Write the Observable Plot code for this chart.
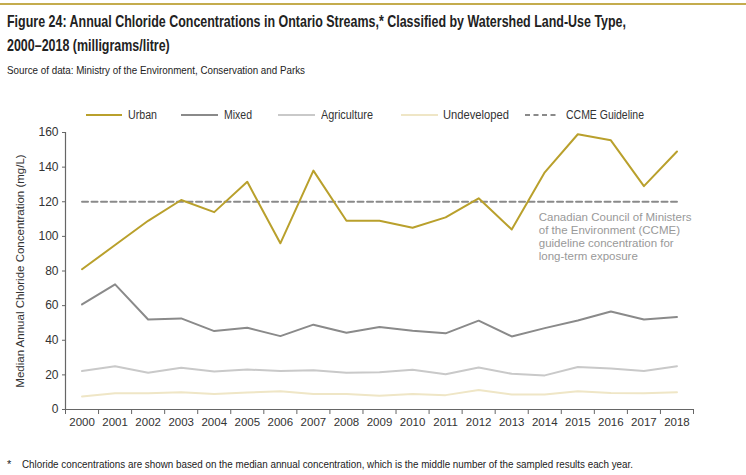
<!DOCTYPE html>
<html><head><meta charset="utf-8">
<script src="https://cdn.jsdelivr.net/npm/d3@7"></script>
<script src="https://cdn.jsdelivr.net/npm/@observablehq/plot@0.6"></script>
<style>
html,body{margin:0;padding:0;background:#fff;}
#wrap{position:relative;width:746px;height:475px;overflow:hidden;font-family:"Liberation Sans",Arial,sans-serif;color:#222;}
#topline{position:absolute;left:0;top:3px;width:746px;height:2px;background:#c4ac4e;}
.fit{position:absolute;white-space:nowrap;transform-origin:0 0;}
#title1,#title2{left:7px;font-weight:bold;font-size:17px;line-height:20px;color:#222;}
#title1{top:12px;} #title2{top:36px;}
#source{left:7px;top:63px;font-size:11px;line-height:14px;color:#222;}
#legend{position:absolute;left:0;top:107px;height:16px;width:746px;font-size:12.5px;color:#333;}
.li{position:absolute;top:0;height:16px;line-height:16px;white-space:nowrap;transform-origin:0 0;}
.sw{position:absolute;top:7px;height:2px;overflow:visible;}
#chart{position:absolute;left:0;top:120px;}
#fstar{position:absolute;left:7px;top:457px;font-size:11px;line-height:14px;}
#foot{left:22px;top:457px;font-size:11px;line-height:14px;color:#222;}
</style></head>
<body><div id="wrap">
<div id="topline"></div>
<div id="title1" class="fit">Figure 24: Annual Chloride Concentrations in Ontario Streams,* Classified by Watershed Land-Use Type,</div>
<div id="title2" class="fit">2000–2018 (milligrams/litre)</div>
<div id="source" class="fit">Source of data: Ministry of the Environment, Conservation and Parks</div>
<div id="legend"></div>
<div id="chart"></div>
<div id="fstar">*</div>
<div id="foot" class="fit">Chloride concentrations are shown based on the median annual concentration, which is the middle number of the sampled results each year.</div>
</div>
<script>
const years = [2000,2001,2002,2003,2004,2005,2006,2007,2008,2009,2010,2011,2012,2013,2014,2015,2016,2017,2018];
const urban = [81,95,109,121,114,131.5,96,138,109,109,105,111,122,104,137,159,155.5,129,149];
const mixed = [60.7,72.3,52,52.6,45.3,47.2,42.4,49,44.3,47.6,45.5,44,51.3,42.2,47,51.4,56.6,52,53.4];
const agriculture = [22.2,25,21.2,24.1,22,23.1,22.2,22.7,21.2,21.5,22.9,20.4,24.3,20.6,19.7,24.5,23.7,22.3,25];
const undeveloped = [7.5,9.4,9.4,10,9,9.8,10.6,9,9,8,8.9,8.3,11.2,8.7,8.7,10.6,9.6,9.4,10];
const guideline = 120;
const yTicks = [0,20,40,60,80,100,120,140,160];
const seriesNames = ["Urban","Mixed","Agriculture","Undeveloped","CCME Guideline"];
const seriesColors = ["#b9a02c","#8a8a8a","#c9c9c9","#efe6c6","#8a8a8a"];
const annotation = "Canadian Council of Ministers\nof the Environment (CCME)\nguideline concentration for\nlong-term exposure";

const toRows = arr => years.map((yr,i)=>({year:yr,value:arr[i]}));
const boundaries = years.map(y=>y-0.5).concat([years[years.length-1]+0.5]);

// fit condensed-looking texts to reference widths
function fitEl(el, w){ const cw=el.getBoundingClientRect().width; const s=w/cw; el.style.transform="scaleX("+s+")"; return s; }
const s1 = fitEl(document.getElementById("title1"), 619);
document.getElementById("title2").style.transform = "scaleX("+s1+")";
fitEl(document.getElementById("source"), 298);
fitEl(document.getElementById("foot"), 611);

// legend
const legendSw = [[86,36],[181,37],[278,37],[401,37],[525,32]];
const legendTx = [[128,29],[224,28],[321,52],[443,66],[566,78]];
const lg = document.getElementById("legend");
seriesNames.forEach((n,i)=>{
  const [sx, sw] = legendSw[i];
  const svg = document.createElementNS("http://www.w3.org/2000/svg","svg");
  svg.setAttribute("class","sw");
  svg.setAttribute("width", sw); svg.setAttribute("height", 2);
  svg.style.left = sx+"px";
  const ln = document.createElementNS("http://www.w3.org/2000/svg","line");
  ln.setAttribute("x1",0); ln.setAttribute("x2",sw); ln.setAttribute("y1",1); ln.setAttribute("y2",1);
  ln.setAttribute("stroke", seriesColors[i]); ln.setAttribute("stroke-width", 2);
  if (i===4) ln.setAttribute("stroke-dasharray","5,3.5");
  svg.appendChild(ln);
  lg.appendChild(svg);
  const t = document.createElement("div");
  t.className="li"; t.style.left = legendTx[i][0]+"px"; t.textContent = n;
  lg.appendChild(t);
  fitEl(t, legendTx[i][1]);
});

const font = "Liberation Sans, Arial, sans-serif";
const chart = Plot.plot({
  width: 746,
  height: 320,
  marginTop: 12,
  marginBottom: 31,
  marginLeft: 65,
  marginRight: 53,
  style: {fontFamily: font, fontSize: "11.5px", color: "#333", background: "transparent"},
  x: {type: "linear", domain: [boundaries[0], boundaries[boundaries.length-1]]},
  y: {domain: [0,160]},
  marks: [
    Plot.axisY({ticks: yTicks, tickSize: 3, tickPadding: 4, stroke: "#666", label: null, color: "#333", fontSize: 12}),
    Plot.text(["Median Annual Chloride Concentration (mg/L)"], {frameAnchor: "left", dx: -45, rotate: -90, textAnchor: "middle", fontSize: 11.5, fill: "#333"}),
    Plot.axisX({ticks: years, tickSize: 0, tickPadding: 8, tickFormat: d=>String(d), label: null, color: "#333"}),
    Plot.axisX({ticks: boundaries, tickSize: 5, tickFormat: () => "", label: null, stroke: "#666"}),
    Plot.ruleY([0], {stroke: "#666", strokeWidth: 1.2}),
    Plot.ruleX([boundaries[0]], {y1: 0, y2: 160, stroke: "#666", strokeWidth: 1.2}),
    Plot.line(toRows(undeveloped), {x: "year", y: "value", stroke: seriesColors[3], strokeWidth: 2}),
    Plot.line(toRows(agriculture), {x: "year", y: "value", stroke: seriesColors[2], strokeWidth: 2}),
    Plot.line(toRows(mixed), {x: "year", y: "value", stroke: seriesColors[1], strokeWidth: 2}),
    Plot.line(years.map(yr=>({year:yr,value:guideline})), {x: "year", y: "value", stroke: seriesColors[4], strokeWidth: 2, strokeDasharray: "6,3.5"}),
    Plot.line(toRows(urban), {x: "year", y: "value", stroke: seriesColors[0], strokeWidth: 2}),
    Plot.text([annotation], {x: years[14], y: 100, dx: -6, textAnchor: "start", lineAnchor: "middle", lineHeight: 1.15, fontSize: 11.5, fill: "#999"})
  ]
});
document.getElementById("chart").appendChild(chart);
</script>
</body></html>
